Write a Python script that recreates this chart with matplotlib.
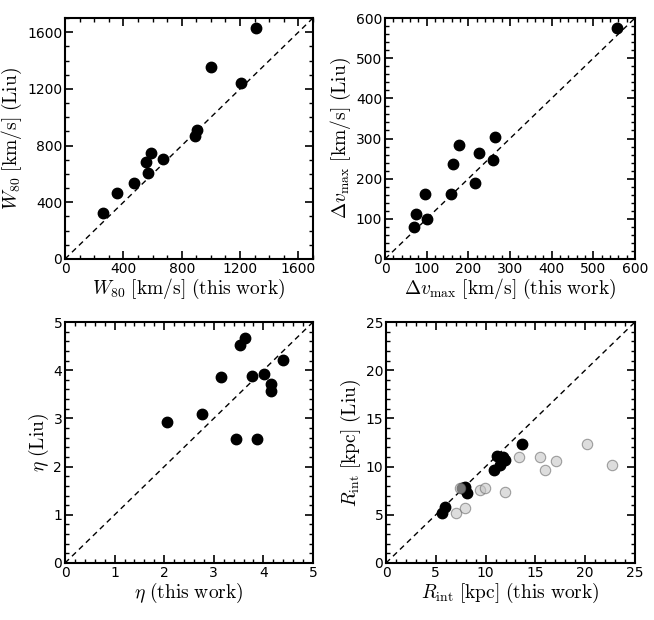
import numpy as np
import matplotlib
matplotlib.use('Agg')
import matplotlib.pyplot as plt
from matplotlib.ticker import MultipleLocator

plt.rcParams['mathtext.fontset'] = 'cm'
plt.rcParams['font.family'] = 'DejaVu Sans'

# W80 [km/s]
w80_this = [258, 359, 471, 558, 571, 587, 674, 894, 903, 1001, 1207, 1310]
w80_liu = [325, 466, 534, 682, 605, 746, 708, 871, 908, 1351, 1245, 1628]

# delta v_max [km/s]
dv_this = [70, 75, 96, 100, 158, 163, 178, 215, 225, 259, 263, 557]
dv_liu = [80, 113, 163, 99, 163, 236, 283, 190, 264, 247, 303, 574]

# eta
eta_this = [2.05, 2.77, 3.14, 3.44, 3.52, 3.62, 3.77, 3.88, 4.01, 4.16, 4.16, 4.40]
eta_liu = [2.93, 3.10, 3.86, 2.57, 4.52, 4.66, 3.88, 2.57, 3.92, 3.72, 3.56, 4.21]

# R_int [kpc], black and grey samples
rint_this = [5.6, 5.95, 7.6, 7.95, 8.1, 10.8, 11.1, 11.45, 11.7, 11.9, 13.7]
rint_liu = [5.17, 5.85, 7.75, 7.9, 7.3, 9.65, 11.05, 10.2, 11.0, 10.65, 12.3]
rint2_this = [7.05, 7.4, 7.93, 9.45, 9.94, 11.91, 13.35, 15.43, 15.96, 17.1, 20.15, 22.7]
rint2_liu = [5.15, 7.8, 5.72, 7.6, 7.8, 7.38, 11.0, 11.03, 9.66, 10.6, 12.34, 10.14]


def style_ax(ax, lim, major, minor, xlabel, ylabel):
    ax.plot([0, lim], [0, lim], color='k', ls=(0, (4, 3)), lw=1, zorder=1)
    ax.set_xlim(0, lim)
    ax.set_ylim(0, lim)
    ax.xaxis.set_major_locator(MultipleLocator(major))
    ax.yaxis.set_major_locator(MultipleLocator(major))
    ax.xaxis.set_minor_locator(MultipleLocator(minor))
    ax.yaxis.set_minor_locator(MultipleLocator(minor))
    ax.tick_params(which='both', direction='in', top=True, right=True, labelsize=10, pad=2)
    ax.tick_params(which='major', length=6, width=1.2)
    ax.tick_params(which='minor', length=3, width=1)
    for s in ax.spines.values():
        s.set_linewidth(1.5)
    ax.set_xlabel(xlabel, fontsize=14, labelpad=1)
    ax.set_ylabel(ylabel, fontsize=14, labelpad=2)


fig = plt.figure(figsize=(6.54, 6.2), dpi=100)
W, H = 654, 620
ax1 = fig.add_axes([65 / W, 1 - 259 / H, 248 / W, 241 / H])
ax2 = fig.add_axes([385 / W, 1 - 259 / H, 250 / W, 241 / H])
ax3 = fig.add_axes([65 / W, 1 - 563 / H, 248 / W, 241 / H])
ax4 = fig.add_axes([386 / W, 1 - 563 / H, 249 / W, 241 / H])

ms = 7.5
ax1.plot(w80_this, w80_liu, 'o', color='k', ms=ms, zorder=3)
style_ax(ax1, 1700, 400, 100,
         r'$W_{80}\ \mathrm{[km/s]\ (this\ work)}$',
         r'$W_{80}\ \mathrm{[km/s]\ (Liu)}$')

ax2.plot(dv_this, dv_liu, 'o', color='k', ms=ms, zorder=3)
style_ax(ax2, 600, 100, 20,
         r'$\Delta v_{\mathrm{max}}\ \mathrm{[km/s]\ (this\ work)}$',
         r'$\Delta v_{\mathrm{max}}\ \mathrm{[km/s]\ (Liu)}$')

ax3.plot(eta_this, eta_liu, 'o', color='k', ms=ms, zorder=3)
style_ax(ax3, 5, 1, 0.2,
         r'$\eta\ \mathrm{(this\ work)}$',
         r'$\eta\ \mathrm{(Liu)}$')

ax4.plot(rint_this, rint_liu, 'o', color='k', ms=ms, zorder=3)
ax4.plot(rint2_this, rint2_liu, 'o', mfc=(0.78, 0.78, 0.78), mec=(0.4, 0.4, 0.4),
         mew=0.8, ms=ms, alpha=0.6, zorder=4)
style_ax(ax4, 25, 5, 1,
         r'$R_{\mathrm{int}}\ \mathrm{[kpc]\ (this\ work)}$',
         r'$R_{\mathrm{int}}\ \mathrm{[kpc]\ (Liu)}$')

fig.savefig('out.png', dpi=100)
